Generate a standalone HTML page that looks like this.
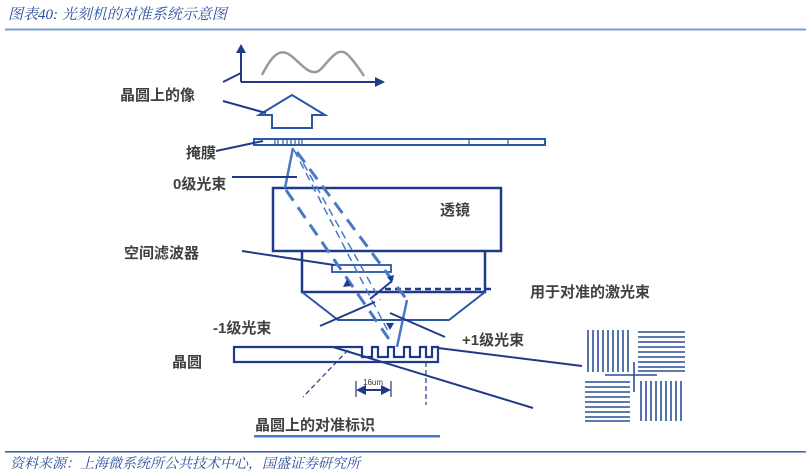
<!DOCTYPE html>
<html><head><meta charset="utf-8"><style>
body{margin:0;background:#fff;width:811px;height:476px;overflow:hidden}
svg{display:block}
.l{font-family:"Liberation Sans","Noto Sans CJK SC",sans-serif;font-weight:bold;font-size:15px;fill:#404040}
.h{font-family:"Liberation Serif","Noto Serif CJK SC",serif;font-style:italic;font-size:14px;fill:#2a4f9a}
</style></head><body>
<svg width="811" height="476" viewBox="0 0 811 476" xmlns="http://www.w3.org/2000/svg">
<text x="8" y="19" class="h" style="font-size:15px">图表40:  光刻机的对准系统示意图</text>
<rect x="5" y="28.5" width="801" height="2" fill="#7a9ccc"/>
<rect x="5" y="451" width="801" height="1.6" fill="#3a66b0"/>
<text x="10" y="468" class="h">资料来源：上海微系统所公共技术中心，国盛证券研究所</text>

<g fill="none" stroke="#1f3a8a" stroke-width="2">
<line x1="241" y1="50" x2="241" y2="82"/>
<line x1="241" y1="82" x2="378" y2="82"/>
</g>
<polygon points="241,44 236,53 246,53" fill="#1f3a8a"/>
<polygon points="385,82 375,77 375,87" fill="#1f3a8a"/>
<path d="M262,75 C272,55 280,48 290,55 C300,62 310,78 320,70 C330,60 338,45 348,55 C355,62 360,70 364,76" fill="none" stroke="#999" stroke-width="2.5"/>
<path d="M292,95 L259,115 L272,115 L272,128 L312,128 L312,115 L325,115 Z" fill="none" stroke="#2a56a8" stroke-width="2"/>
<rect x="254" y="139" width="291" height="6" fill="none" stroke="#2a56a8" stroke-width="2"/>
<g stroke="#2a56a8" stroke-width="1.2"><line x1="469" y1="139" x2="469" y2="145"/><line x1="508" y1="139" x2="508" y2="145"/>
<line x1="275" y1="140" x2="275" y2="144"/><line x1="278" y1="140" x2="278" y2="144"/><line x1="283" y1="140" x2="283" y2="144"/><line x1="287" y1="140" x2="287" y2="144"/><line x1="291" y1="140" x2="291" y2="144"/><line x1="295" y1="140" x2="295" y2="144"/><line x1="299" y1="140" x2="299" y2="144"/><line x1="302" y1="140" x2="302" y2="144"/></g>
<g fill="none" stroke="#1f3a8a" stroke-width="2.5">
<rect x="273" y="188" width="228" height="63"/>
<path d="M302,251 L302,292 L485,292 L485,251"/>
</g>
<path d="M302,292 L338,320 L449,320 L485,292" fill="none" stroke="#2a56a8" stroke-width="2"/>
<rect x="332" y="265" width="59" height="7" fill="none" stroke="#2a56a8" stroke-width="1.8"/>
<line x1="385" y1="289" x2="494" y2="289" stroke="#1f3a8a" stroke-width="2.5" stroke-dasharray="6,4"/>
<!-- beams -->
<g fill="none" stroke="#4a78c8" stroke-width="3" stroke-dasharray="13,8">
<line x1="286" y1="190" x2="393" y2="345"/>
<line x1="297" y1="152" x2="407" y2="300"/>
</g>
<g fill="none" stroke="#4a78c8" stroke-width="1.5" stroke-dasharray="8,5">
<line x1="294" y1="150" x2="390" y2="335"/>
<line x1="297" y1="152" x2="380" y2="300"/>
</g>
<g fill="none" stroke="#4a78c8" stroke-width="2.5">
<line x1="293" y1="148" x2="285" y2="188"/>
<line x1="407" y1="300" x2="397" y2="347"/>
</g>
<g fill="#1f3a8a"><polygon points="347,279 343,287 351,286"/><polygon points="394,275 387,277 392,283"/><polygon points="390,330 386,323 394,323"/></g>
<path d="M234,347 L362,347 L362,357 L372,357 L372,347 L378,347 L378,357 L388,357 L388,347 L394,347 L394,357 L404,357 L404,347 L410,347 L410,357 L420,357 L420,347 L426,347 L426,357 L432,357 L432,347 L438,347 L438,362 L234,362 Z" fill="none" stroke="#1f3a8a" stroke-width="2.2"/>
<g stroke="#1f3a8a" stroke-width="1.2" stroke-dasharray="5,3"><line x1="348" y1="350" x2="303" y2="397"/><line x1="426" y1="362" x2="426" y2="405"/></g>
<line x1="356" y1="381" x2="356" y2="397" stroke="#1f3a8a" stroke-width="1.2"/>
<line x1="391" y1="381" x2="391" y2="397" stroke="#1f3a8a" stroke-width="1.2"/>
<line x1="360" y1="390" x2="387" y2="390" stroke="#1f3a8a" stroke-width="2"/>
<polygon points="356,390 366,385 366,395" fill="#1f3a8a"/><polygon points="391,390 381,385 381,395" fill="#1f3a8a"/>
<text x="363" y="385" font-family="Liberation Sans,sans-serif" font-size="8" fill="#333">16um</text>
<g stroke="#1f3a8a" stroke-width="2" fill="none">
<line x1="223" y1="82" x2="241" y2="73"/>
<line x1="223" y1="101" x2="266" y2="113"/>
<line x1="216" y1="151" x2="263" y2="141"/>
<line x1="232" y1="177" x2="297" y2="177"/>
<line x1="242" y1="251" x2="334" y2="265"/>
<line x1="320" y1="326" x2="375" y2="302"/>
<line x1="390" y1="313" x2="445" y2="337"/>
<line x1="333" y1="347" x2="533" y2="408"/>
<line x1="438" y1="348" x2="582" y2="366"/>
<line x1="370" y1="299" x2="392" y2="281"/>
</g>
<rect x="254" y="435" width="186" height="2.5" fill="#4a78c8"/>
<g stroke="#2a4f9a" stroke-width="1.6">
<path d="M588,330V372M593,330V372M598,330V372M603,330V372M608,330V372M613,330V372M618,330V372M623,330V372M628,330V372"/>
<path d="M641,381V421M646,381V421M651,381V421M656,381V421M661,381V421M666,381V421M671,381V421M676,381V421M681,381V421"/>
<path d="M638,332H685M638,337H685M638,342H685M638,347H685M638,352H685M638,357H685M638,362H685M638,367H685M638,371H685"/>
<path d="M585,382H630M585,387H630M585,392H630M585,397H630M585,402H630M585,407H630M585,412H630M585,417H630M585,421H630"/>
<line x1="634" y1="362" x2="634" y2="392"/><line x1="605" y1="375" x2="657" y2="375"/>
</g>
<text x="120" y="100" class="l">晶圆上的像</text>
<text x="186" y="158" class="l">掩膜</text>
<text x="173" y="189" class="l">0级光束</text>
<text x="440" y="215" class="l">透镜</text>
<text x="124" y="258" class="l">空间滤波器</text>
<text x="530" y="297" class="l">用于对准的激光束</text>
<text x="213" y="333" class="l">-1级光束</text>
<text x="462" y="345" class="l">+1级光束</text>
<text x="172" y="367" class="l">晶圆</text>
<text x="255" y="430" class="l">晶圆上的对准标识</text>
</svg>
</body></html>
